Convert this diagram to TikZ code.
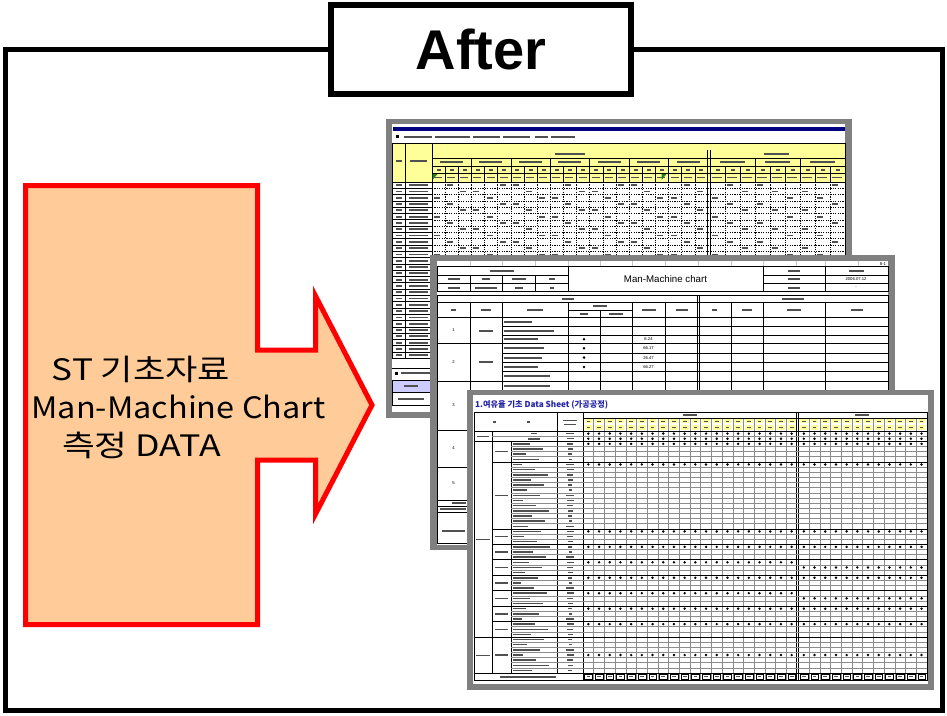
\documentclass[tikz,border=0pt]{standalone}
\usepackage{fontspec}
\setmainfont{Liberation Sans}
\newfontfamily\kr{Noto Sans CJK KR}
\definecolor{peach}{HTML}{FFCC99}
\definecolor{sheetgrey}{HTML}{808080}
\definecolor{hdry}{HTML}{FFFF99}
\definecolor{navybar}{HTML}{000080}
\definecolor{lav}{HTML}{CCCCFF}
\definecolor{bartxt}{HTML}{505050}
\definecolor{titleblue}{HTML}{2424A8}
\definecolor{gridg}{HTML}{8C8C8C}
\definecolor{markgreen}{HTML}{208020}
\tikzset{
  frame/.style={draw=black,line width=5pt},
  titlebox/.style={draw=black,line width=6pt,fill=white,minimum width=300pt,minimum height=89pt,inner sep=0pt,font=\bfseries\fontsize{56}{56}\selectfont},
  bigarrow/.style={draw=red,fill=peach,line width=5pt,line join=miter,miter limit=10},
  arrowtxt/.style={font=\kr\fontsize{29.5}{30}\selectfont,inner sep=0pt,anchor=base},
  gline/.style={draw=gridg,line width=0.6pt},
  bline/.style={draw=black,line width=0.7pt},
  dline/.style={draw=black,line width=0.6pt,dash pattern=on 1.2pt off 1.2pt},
  tb/.style={fill=bartxt},
  tinytxt/.style={font=\fontsize{4.2}{5}\selectfont,inner sep=0pt},
}
\begin{document}
\begin{tikzpicture}[x=1pt,y=-1pt]
\useasboundingbox (0,0) rectangle (947,715);
\fill[white] (0,0) rectangle (947,715);

% ---------- frame and title ----------
\draw[frame] (5.5,49.5) rectangle (942.5,710.5);
\node[titlebox] (after) at (481,49.5) {After};

% ---------- big arrow ----------
\draw[bigarrow] (25.5,185.5) -- (257.5,185.5) -- (257.5,350) -- (315.5,350) -- (315.5,296)
  -- (372,405) -- (315.5,514) -- (315.5,460) -- (257.5,460) -- (257.5,624.5) -- (25.5,624.5) -- cycle;
\node[arrowtxt] (t1) at (141,380) {\scalebox{1.19}[1]{ST 기초자료}};
\node[arrowtxt] (t2) at (178.5,418) {\scalebox{1.10}[1]{Man-Machine Chart}};
\node[arrowtxt] (t3) at (141.5,456) {\scalebox{1.21}[1]{측정 DATA}};

% ================= SHEET 1 (back) =================
\fill[sheetgrey] (386,119) rectangle (852,418);
\fill[white] (392,124) rectangle (845,412);
\fill[navybar] (393,126.5) rectangle (845,130.5);
\fill[black] (396,135) rectangle (399,138);
\foreach \a/\b in {404/432,435/470,473/500,503/530,535/548,551/575}{\fill[tb] (\a,135.6) rectangle (\b,137.6);}
\fill[hdry] (392,143) rectangle (845,182);
\draw[bline] (392,143) -- (845,143) (392,182) -- (845,182);
\draw[bline] (432,158) -- (845,158) (432,166) -- (845,166) (432,173) -- (845,173);
\draw[bline] (392,143) -- (392,358.4) (405,143) -- (405,358.4) (432,143) -- (432,358.4) (845,143) -- (845,358.4);
\draw[bline] (707,150) -- (707,358.4) (710,150) -- (710,358.4);
% section titles
\fill[tb] (555,152.5) rectangle (585,154.5);
\fill[tb] (764,152.5) rectangle (789,154.5);
% left header labels
\fill[tb] (395.5,160) rectangle (401.5,162);
\fill[tb] (410,160) rectangle (427,162);
% section 1 groups
\foreach \g in {0,...,6}{
  \pgfmathsetmacro{\gx}{432+\g*39.43}
  \draw[bline] (\gx,158) -- (\gx,182);
  \fill[tb] ({\gx+8},161) rectangle ({\gx+31},163);
  \foreach \s in {0,1,2}{
    \pgfmathsetmacro{\sx}{\gx+\s*13.14}
    \draw[bline] (\sx,166) -- (\sx,182);
    \fill[tb] ({\sx+4.5},168.6) rectangle ({\sx+8.5},170.6);
    \fill[tb] ({\sx+2},176.6) rectangle ({\sx+10},178.4);
    \draw[dline] (\sx,182) -- (\sx,358.4);
  }
}
% section 2 groups
\foreach \g in {0,1,2}{
  \pgfmathsetmacro{\gx}{710+\g*45}
  \draw[bline] (\gx,158) -- (\gx,182);
  \fill[tb] ({\gx+10},161) rectangle ({\gx+35},163);
  \foreach \s in {0,1,2}{
    \pgfmathsetmacro{\sx}{\gx+\s*15}
    \draw[bline] (\sx,166) -- (\sx,182);
    \fill[tb] ({\sx+5.5},168.6) rectangle ({\sx+9.5},170.6);
    \fill[tb] ({\sx+2},176.6) rectangle ({\sx+12},178.4);
    \draw[dline] (\sx,182) -- (\sx,358.4);
  }
}
\fill[markgreen] (432.5,174) -- (437.5,174) -- (432.5,180) -- cycle;
\fill[markgreen] (661.5,174) -- (666.5,174) -- (661.5,180) -- cycle;
% data rows
\foreach \i in {1,...,28}{
  \pgfmathsetmacro{\yy}{182+\i*6.3}
  \draw[bline] (392,\yy) -- (432,\yy);
  \draw[dline] (432,\yy) -- (845,\yy);
  \fill[tb] (395.5,{\yy-4.1}) rectangle (401.5,{\yy-2.3});
  \fill[tb] (409,{\yy-4.1}) rectangle (428,{\yy-2.3});
  \foreach \g in {0,...,6}{
    \pgfmathsetmacro{\bx}{432+\g*39.43+2+mod(\i+\g,3)*13.14}
    \fill[tb] (\bx,{\yy-4.1}) rectangle ({\bx+6},{\yy-2.3});
  }
  \foreach \g in {0,1,2}{
    \pgfmathsetmacro{\bx}{710+\g*45+2+mod(\i+2*\g,3)*15}
    \fill[tb] (\bx,{\yy-4.1}) rectangle ({\bx+6},{\yy-2.3});
  }
}
% sheet 1 bottom part
\draw[bline] (392,368) -- (432,368);
\fill[black] (395,371.5) rectangle (398,374.5);
\fill[tb] (401,372) rectangle (430,374);
\fill[lav] (392,380) rectangle (432,392);
\draw[bline] (392,380) rectangle (432,392);
\fill[tb] (404,385) rectangle (418,387);
\draw[bline] (392,392) -- (392,405) -- (432,405);
\fill[tb] (398,397.5) rectangle (424,399.5);

% ================= SHEET 2 (middle) =================
\fill[sheetgrey] (430,255) rectangle (895,550);
\fill[white] (437,261) rectangle (888,545);
\foreach \x in {470,502,535,568,600,632,665,698,731,763,796,825,858}{\draw[draw=gridg!50,line width=0.3pt] (\x,261) -- (\x,266.7);}
\node[tinytxt] (s2page) at (883,263.8) {8-1};
% header block
\draw[bline] (437,266.7) rectangle (888,291.7);
\draw[bline] (568,266.7) -- (568,291.7) (763,266.7) -- (763,291.7) (825,266.7) -- (825,291.7);
\draw[bline] (437,275) -- (568,275) (437,283.3) -- (568,283.3) (763,275) -- (888,275) (763,283.3) -- (888,283.3);
\draw[bline] (470,275) -- (470,291.7) (502,275) -- (502,291.7) (535,275) -- (535,291.7);
\fill[tb] (490,269.8) rectangle (514,271.8);
\foreach \cx/\w in {453.5/12,486/8,518.5/14,551.5/6}{\fill[tb] ({\cx-\w/2},278.2) rectangle ({\cx+\w/2},280.2);}
\foreach \cx/\w in {453.5/12,486/22,518.5/8,551.5/4}{\fill[tb] ({\cx-\w/2},286.5) rectangle ({\cx+\w/2},288.5);}
\foreach \yy in {269.8,278.2,286.5}{\fill[tb] (788,\yy) rectangle (800,{\yy+2});}
\fill[tb] (849,269.8) rectangle (864,271.8);
\node[tinytxt] (s2date) at (856,279.2) {2006.07.12};
\node[tinytxt] (s2dash) at (856,287.5) {-};
\node[font=\fontsize{9.7}{10}\selectfont,inner sep=0pt] (mmtitle) at (665.5,279.2) {Man-Machine chart};
% MAN / Machine row
\draw[bline] (437,295) rectangle (888,302);
\fill[tb] (562,297.5) rectangle (574,299.5);
\fill[tb] (782,297.5) rectangle (804,299.5);
% column header row
\draw[bline] (437,302) rectangle (888,317);
\foreach \x in {470,502,568,632,665,731,763,825}{\draw[bline] (\x,302) -- (\x,317);}
\draw[bline] (568,310) -- (632,310) (600,310) -- (600,317);
\draw[bline] (697,295) -- (697,430) (699.5,295) -- (699.5,430);
\foreach \cx/\w in {453.5/5,486/10,535/16,648.5/14,681.5/12,714.5/5,747/10,794/14,856.5/12}{\fill[tb] ({\cx-\w/2},308.5) rectangle ({\cx+\w/2},310.5);}
\fill[tb] (593,305) rectangle (607,307);
\fill[tb] (580,312.8) rectangle (588,314.8);
\fill[tb] (609,312.8) rectangle (623,314.8);
% data area
\foreach \x in {437,470,502,568,600,632,665,731,763,825,888}{\draw[bline] (\x,317) -- (\x,430);}
\foreach \yy in {326.5,335,353,362.3,371.7,390,399.5,409,418.5}{\draw[bline] (502,\yy) -- (888,\yy);}
\foreach \yy in {343.5,381,430}{\draw[bline] (437,\yy) -- (888,\yy);}
\draw[bline] (437,430) -- (437,543) (437,467) -- (600,467) (437,500) -- (600,500) (437,506) -- (600,506) (437,512) -- (600,512) (437,543) -- (600,543);
\foreach \yy/\w in {321.7/28,330.7/50,339.2/34,348.2/40,357.6/38,367/34,376.3/46,385.5/46}{\fill[tb] (504,{\yy-1}) rectangle ({504+\w},{\yy+1});}
\foreach \yy in {339.2,348.2,357.6,367}{\fill[black] (584,\yy) circle (1.4);}
\node[tinytxt] (n1) at (648.5,339.2) {6.24};
\node[tinytxt] (n2) at (648.5,348.2) {66.17};
\node[tinytxt] (n3) at (648.5,357.6) {26.47};
\node[tinytxt] (n4) at (648.5,367) {66.27};
\node[tinytxt] (no1) at (453.5,330.5) {1};
\node[tinytxt] (no2) at (453.5,362) {2};
\node[tinytxt] (no3) at (453.5,405) {3};
\node[tinytxt] (no4) at (453.5,448) {4};
\node[tinytxt] (no5) at (453.5,483) {5};
\fill[tb] (479,329.5) rectangle (493,331.5);
\fill[tb] (479,361) rectangle (493,363);
\fill[tb] (452,502) rectangle (466,504);
\fill[tb] (440,508) rectangle (466,510);
\fill[tb] (442,530) rectangle (465,532);

% ================= SHEET 3 (front) =================
\fill[sheetgrey] (467,390) rectangle (934,690);
\fill[white] (473,395) rectangle (928,684);
\node[anchor=west,font=\kr\bfseries\fontsize{8.2}{9}\selectfont,text=titleblue,inner sep=0pt] (s3title) at (475,404.5) {1.여유율 기초 Data Sheet (가공공정)};
% data columns
\foreach \k in {0,...,19}{
  \pgfmathsetmacro{\cx}{583+\k*10.7}
  \fill[hdry] ({\cx+1.5},419) rectangle ({\cx+9.2},423.3);
  \fill[hdry] ({\cx+1.5},425.2) rectangle ({\cx+9.2},429.5);
  \fill[tb] ({\cx+3.5},420.5) rectangle ({\cx+7.2},421.8);
  \fill[tb] ({\cx+3.5},426.7) rectangle ({\cx+7.2},428);
  \draw[draw=black,line width=0.4pt] ({\cx+1.5},674.5) rectangle ({\cx+9.2},678.8);
  \fill[tb] ({\cx+3.5},676) rectangle ({\cx+7.2},677.3);
  \ifnum\k>0 \draw[gline] (\cx,418) -- (\cx,680); \fi
}
\foreach \k in {0,...,11}{
  \pgfmathsetmacro{\cx}{798.5+\k*10.7}
  \fill[hdry] ({\cx+1.5},419) rectangle ({\cx+9.2},423.3);
  \fill[hdry] ({\cx+1.5},425.2) rectangle ({\cx+9.2},429.5);
  \fill[tb] ({\cx+3.5},420.5) rectangle ({\cx+7.2},421.8);
  \fill[tb] ({\cx+3.5},426.7) rectangle ({\cx+7.2},428);
  \draw[draw=black,line width=0.4pt] ({\cx+1.5},674.5) rectangle ({\cx+9.2},678.8);
  \fill[tb] ({\cx+3.5},676) rectangle ({\cx+7.2},677.3);
  \ifnum\k>0 \draw[gline] (\cx,418) -- (\cx,680); \fi
}
\draw[bline] (474,412) rectangle (927,680);
\draw[bline] (796.5,412) -- (796.5,680) (798.5,412) -- (798.5,680);
\draw[bline] (583,418) -- (927,418) (474,431) -- (927,431);
\draw[bline] (557,412) -- (557,673) (583,412) -- (583,680);
\draw[bline] (492,431) -- (492,673) (511,441.3) -- (511,673);
\fill[tb] (683,414.2) rectangle (697,416);
\fill[tb] (855,414.2) rectangle (869,416);
\fill[tb] (492.5,420.5) rectangle (495.5,422.5);
\fill[tb] (526.5,420.5) rectangle (529.5,422.5);
\fill[tb] (563,419.5) rectangle (577,421);
\fill[tb] (564,423.5) rectangle (576,425);
% rows
\foreach \i in {1,...,46}{
  \pgfmathsetmacro{\yy}{431+\i*5.15}
  \ifnum\i<3 \draw[gline] (492,\yy) -- (927,\yy); \else \draw[gline] (511,\yy) -- (927,\yy); \fi
}
\foreach \i in {6,19,22,25,28,31,34,37}{\draw[bline] (492,{431+\i*5.15}) -- (927,{431+\i*5.15});}
\foreach \i in {2,40,47}{\draw[bline] (474,{431+\i*5.15}) -- (927,{431+\i*5.15});}
% row texts
\foreach \i in {1,...,47}{
  \pgfmathsetmacro{\yc}{431+(\i-0.5)*5.15}
  \pgfmathsetmacro{\w}{8+mod(\i*13,30)}
  \pgfmathsetmacro{\v}{3+mod(\i*5,6)}
  \ifnum\i>2 \fill[tb] (513,{\yc-0.75}) rectangle ({513+\w},{\yc+0.75}); \fi
  \fill[tb] ({570-\v/2},{\yc-0.75}) rectangle ({570+\v/2},{\yc+0.75});
}
\fill[tb] (531,432.8) rectangle (537,434.3);
\fill[tb] (528,438) rectangle (540,439.5);
\fill[tb] (477,435.5) rectangle (489,437);
\fill[tb] (476,538.5) rectangle (490,540);
\fill[tb] (476,654.5) rectangle (490,656);
\foreach \a/\b in {2/6,6/19,19/22,22/25,25/28,28/31,31/34,34/37,37/40,40/47}{
  \pgfmathsetmacro{\yc}{431+(\a+\b)/2*5.15}
  \fill[tb] (495,{\yc-0.75}) rectangle (508,{\yc+0.75});
}
\fill[tb] (500,676) rectangle (556,677.5);
% dots
\foreach \i in {1,2,3,7,20,23,26,29,32,35,38,44}{
  \foreach \k in {0,...,19}{\fill[black] ({583+(\k+0.5)*10.7},{431+(\i-0.5)*5.15}) circle (1.35);}
}
\foreach \i in {1,2,3,7,20,23,27,29,33,35,38,44}{
  \foreach \k in {0,...,11}{\fill[black] ({798.5+(\k+0.5)*10.7},{431+(\i-0.5)*5.15}) circle (1.35);}
}
\end{tikzpicture}
\end{document}
